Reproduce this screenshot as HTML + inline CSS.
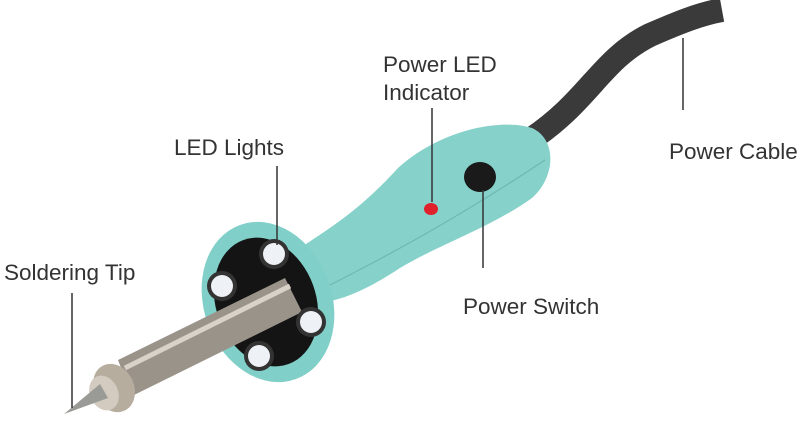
<!DOCTYPE html>
<html><head><style>
body{margin:0;background:#fff;width:802px;height:436px;overflow:hidden}
svg{display:block}
text{font-family:"Liberation Sans",sans-serif;font-size:22.5px;fill:#333}
</style></head><body>
<svg width="802" height="436" viewBox="0 0 802 436">
<path d="M530 140 C590 100 600 60 650 35 C680 22 700 14 722 10" stroke="#3a3a3a" stroke-width="24" fill="none"/>
<path d="M300 248 C330 228 360 210 398 168 C440 130 500 118 532 128 C558 140 555 178 532 198 C490 228 440 244 400 268 C370 288 340 302 320 302 Z" fill="#86d2cb"/>
<path d="M320 290 C400 250 470 210 545 160" stroke="#6cb9b1" stroke-width="1.2" fill="none"/>
<ellipse cx="268" cy="302" rx="64" ry="82" transform="rotate(-20 268 302)" fill="#80cfc8"/>
<ellipse cx="266" cy="302" rx="50" ry="66" transform="rotate(-20 266 302)" fill="#141414"/>
<path d="M118 360 L285 278 L302 312 L132 396 Z" fill="#9a938a"/>
<path d="M125 368 L290 286" stroke="#d8d2c8" stroke-width="5"/>
<ellipse cx="114" cy="388" rx="20" ry="25" transform="rotate(-25 114 388)" fill="#b7ad9f"/>
<ellipse cx="104" cy="393" rx="14" ry="18" transform="rotate(-25 104 393)" fill="#d3cbc0"/>
<path d="M64 414 L100 384 L108 398 Z" fill="#9a9a96"/>
<circle cx="274" cy="254" r="15" fill="#333"/><circle cx="274" cy="254" r="11" fill="#eef2f6"/>
<circle cx="222" cy="286" r="15" fill="#333"/><circle cx="222" cy="286" r="11" fill="#eef2f6"/>
<circle cx="311" cy="322" r="15" fill="#333"/><circle cx="311" cy="322" r="11" fill="#eef2f6"/>
<circle cx="259" cy="356" r="15" fill="#333"/><circle cx="259" cy="356" r="11" fill="#eef2f6"/>
<ellipse cx="431" cy="209" rx="7" ry="6" fill="#e0202a"/>
<ellipse cx="480" cy="177" rx="16" ry="15" fill="#1a1a1a"/>
<g stroke="#333" stroke-width="1.5">
<line x1="277" y1="166" x2="277" y2="245"/>
<line x1="432" y1="108" x2="432" y2="202"/>
<line x1="72" y1="293" x2="72" y2="408"/>
<line x1="683" y1="38" x2="683" y2="110"/>
<line x1="483" y1="190" x2="483" y2="268"/>
</g>
<text x="383" y="72">Power LED</text>
<text x="383" y="100">Indicator</text>
<text x="174" y="155">LED Lights</text>
<text x="4" y="280">Soldering Tip</text>
<text x="669" y="159">Power Cable</text>
<text x="463" y="314">Power Switch</text>
</svg>
</body></html>
